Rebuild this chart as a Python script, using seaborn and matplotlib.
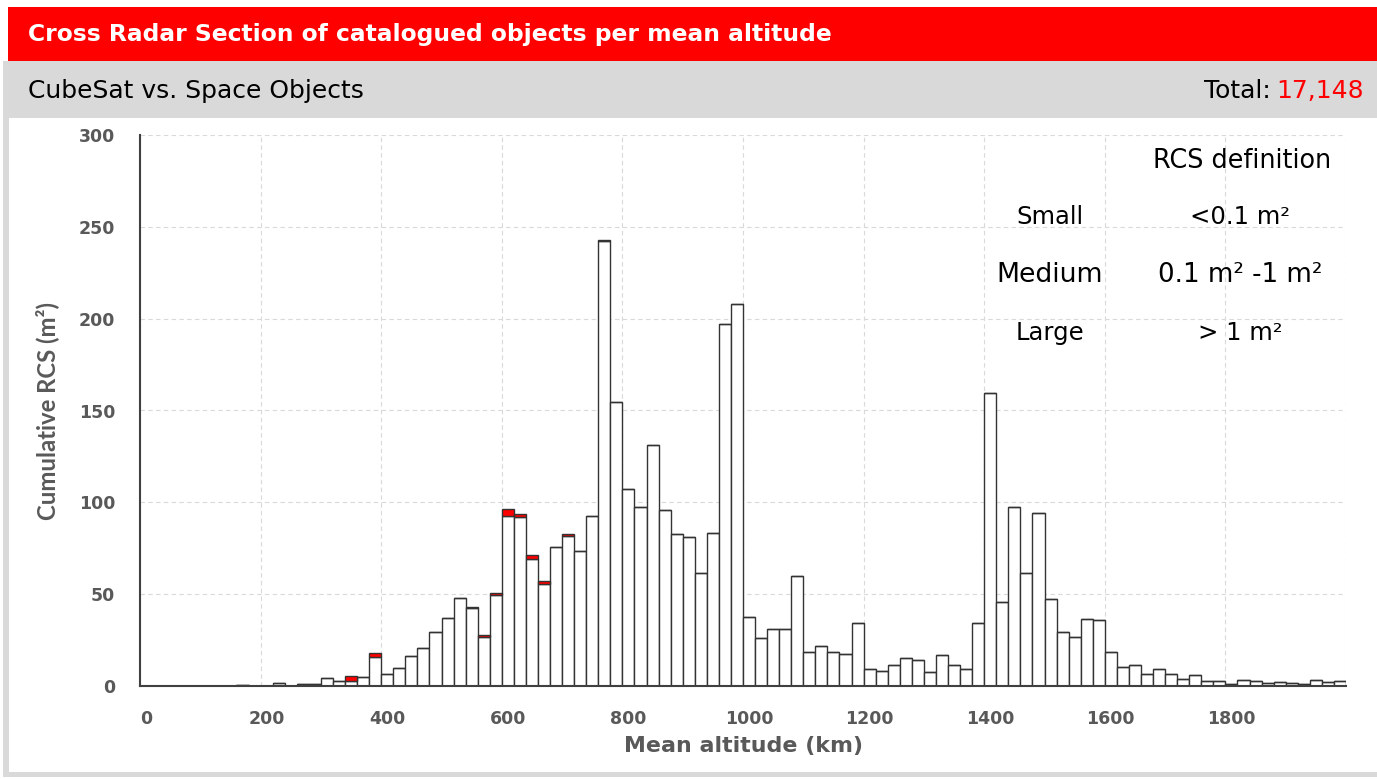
import pandas as pd
import seaborn as sns
import matplotlib.pyplot as plt
import matplotlib.transforms as mtransforms
from matplotlib.patches import Rectangle

# Bins of 20 km from 0 to 2000 km
bin_width = 20
bin_starts = list(range(0, 2000, bin_width))

# Cumulative RCS (m^2) of non-CubeSat space objects per bin
space_objects = [
    0, 0, 0, 0, 0, 0, 0, 0, 0.5, 0,
    0, 1.8, 0, 1.1, 1.1, 4.5, 2.7, 2.9, 4.9, 15.8,
    6.4, 9.8, 16.4, 20.9, 29.5, 36.9, 48.0, 42.4, 26.9, 49.3,
    92.4, 92.2, 68.9, 55.8, 75.6, 81.6, 73.6, 92.5, 242.3, 154.5,
    107.1, 97.3, 131.3, 96.0, 82.5, 81.3, 61.3, 83.1, 197.1, 207.8,
    37.3, 26.4, 31.1, 31.1, 60.0, 18.5, 21.8, 18.6, 17.5, 34.4,
    9.5, 8.0, 11.6, 15.5, 14.4, 7.6, 16.9, 11.6, 9.5, 34.4,
    159.3, 46.0, 97.3, 61.3, 94.0, 47.5, 29.6, 26.8, 36.7, 36.0,
    18.4, 10.4, 11.3, 6.5, 9.3, 6.5, 3.8, 5.8, 2.7, 2.7,
    1.1, 3.1, 2.7, 1.5, 2.2, 1.8, 1.1, 3.5, 2.2, 2.7,
]

# CubeSat contribution stacked on top (red)
cubesat = [0] * 100
cubesat[17] = 2.7
cubesat[19] = 2.4
cubesat[27] = 0.7
cubesat[28] = 1.1
cubesat[29] = 1.1
cubesat[30] = 4.1
cubesat[31] = 1.2
cubesat[32] = 2.2
cubesat[33] = 1.3
cubesat[35] = 0.9
cubesat[38] = 0.8

x_ticks = list(range(0, 2001, 200))
x_tick_labels = [str(t) for t in x_ticks[:-1]] + [""]
y_ticks = list(range(0, 301, 50))

W, H = 1377, 779


def fx(px):
    return px / W


def fy(py):
    return 1 - py / H


df = pd.DataFrame({
    "alt": [b + bin_width / 2 for b in bin_starts] * 2,
    "rcs": space_objects + cubesat,
    "group": ["Space Objects"] * 100 + ["CubeSat"] * 100,
})

sns.set_style("white")
plt.rcParams["font.family"] = ["DejaVu Sans"]

fig = plt.figure(figsize=(W / 100, H / 100), dpi=100)

# Frame, red banner and grey sub-banner
fig.add_artist(Rectangle((fx(3), fy(777)), fx(W) - fx(3), fy(61) - fy(777),
                         transform=fig.transFigure, facecolor="#D9D9D9", edgecolor="none", zorder=0))
fig.add_artist(Rectangle((fx(9), fy(772)), fx(W) - fx(9), fy(118) - fy(772),
                         transform=fig.transFigure, facecolor="white", edgecolor="none", zorder=0))
fig.add_artist(Rectangle((fx(8), fy(61)), fx(W) - fx(8), fy(7) - fy(61),
                         transform=fig.transFigure, facecolor="#FF0000", edgecolor="none", zorder=0))

fig.text(fx(28), fy(34), "Cross Radar Section of catalogued objects per mean altitude",
         color="white", fontsize=16.8, fontweight="bold", va="center", ha="left")
fig.text(fx(28), fy(91), "CubeSat vs. Space Objects", color="black", fontsize=18,
         va="center", ha="left")
total_num = fig.text(fx(1364), fy(91), "17,148", color="#FF0000", fontsize=18,
                     va="center", ha="right")
renderer = fig.canvas.get_renderer()
bb = total_num.get_window_extent(renderer)
fig.text((bb.x0 - 6) / W, fy(91), "Total:", color="black", fontsize=18,
         va="center", ha="right")

ax = fig.add_axes([fx(140), fy(686), fx(1346) - fx(140), fy(135) - fy(686)])
ax.set_facecolor("none")

sns.histplot(
    data=df, x="alt", weights="rcs", hue="group",
    hue_order=["CubeSat", "Space Objects"],
    palette={"Space Objects": "white", "CubeSat": "#FF0000"},
    multiple="stack", binwidth=bin_width, binrange=(0, 2000),
    edgecolor="#333333", linewidth=1.0, alpha=1, legend=False, ax=ax,
)

ax.set_xlim(0, 2000)
ax.set_ylim(0, 300)
ax.set_xticks(x_ticks)
ax.set_xticklabels(x_tick_labels)
ax.set_yticks(y_ticks)
ax.grid(True, linestyle=(0, (4, 3)), color="#D9D9D9", linewidth=0.8)
ax.set_axisbelow(True)

for side in ["top", "right"]:
    ax.spines[side].set_visible(False)
for side in ["left", "bottom"]:
    ax.spines[side].set_color("#404040")
    ax.spines[side].set_linewidth(1.5)

ax.tick_params(axis="both", direction="out", length=6, width=1.5, color="#404040",
               labelcolor="#595959", labelsize=12.5)
ax.tick_params(axis="y", pad=12)
ax.tick_params(axis="x", pad=11)
shift = mtransforms.ScaledTranslation(6 / 100, 0, fig.dpi_scale_trans)
for lab in ax.get_xticklabels():
    lab.set_fontweight("bold")
    lab.set_transform(lab.get_transform() + shift)
for lab in ax.get_yticklabels():
    lab.set_fontweight("bold")

ax.set_xlabel("Mean altitude (km)", fontsize=15.9, fontweight="bold", color="#595959", labelpad=6)
ax.set_ylabel("Cumulative RCS (m²)", fontsize=17.2, fontweight="bold", color="#595959",
              labelpad=14, family=["Lato", "DejaVu Sans"])

# RCS definition table
fig.text(fx(1242), fy(161), "RCS definition", fontsize=18.4, color="black", ha="center", va="center")
rows = [("Small", "<0.1 m²", 217, 17.5, 17.5),
        ("Medium", "0.1 m² -1 m²", 275, 19.3, 18.8),
        ("Large", "> 1 m²", 333, 17.5, 17.5)]
for name, rng, ypix, fs_name, fs_rng in rows:
    fig.text(fx(1050), fy(ypix), name, fontsize=fs_name, color="black", ha="center", va="center")
    fig.text(fx(1240), fy(ypix), rng, fontsize=fs_rng, color="black", ha="center", va="center")

fig.savefig("out.png", dpi=100)
